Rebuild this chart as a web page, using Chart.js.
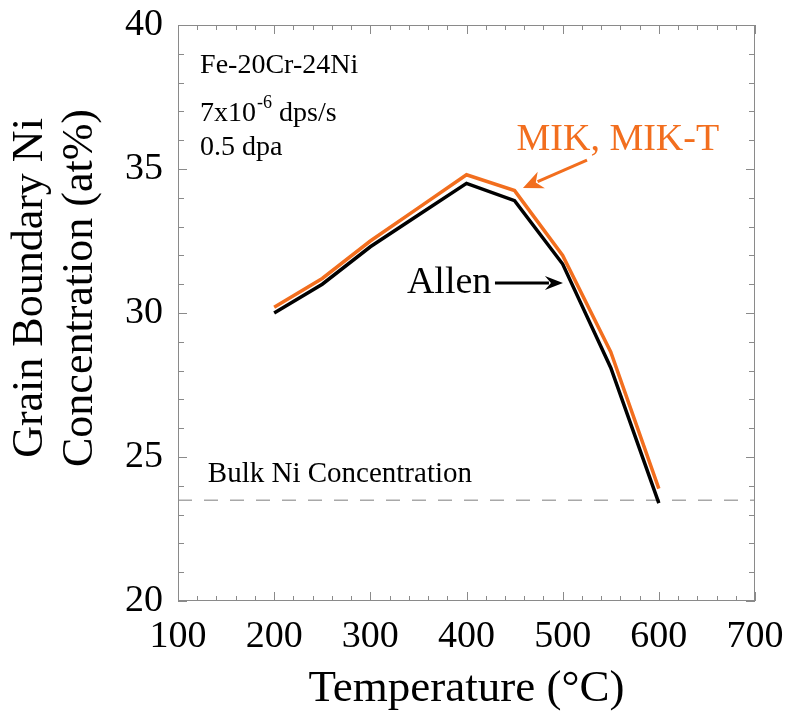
<!DOCTYPE html>
<html><head><meta charset="utf-8">
<script src="https://cdn.jsdelivr.net/npm/chart.js@4.4.1/dist/chart.umd.min.js"></script>
<style>html,body{margin:0;padding:0;background:#fff;}canvas{display:block;}</style>
</head><body>
<canvas id="c" width="788" height="723"></canvas>
<script>
// ---- data ----
const temperatures = [200, 250, 300, 350, 400, 450, 500, 550, 600];
const mikNi        = [30.2, 31.2, 32.5, 33.65, 34.8, 34.25, 32.0, 28.65, 23.9];
const allenNi      = [30.0, 31.0, 32.3, 33.4, 34.5, 33.9, 31.7, 28.1, 23.4];
const bulkNi = 23.5;
const bulkRange = [100, 700];
const xTickValues = [100, 200, 300, 400, 500, 600, 700];
const yTickValues = [20, 25, 30, 35, 40];
const yTitleLines = ['Grain Boundary Ni', 'Concentration (at%)'];
const xTitle = 'Temperature (°C)';

const FONT = '"Liberation Serif", "Times New Roman", serif';
const ORANGE = '#F26E1E';
const FRAME = '#8a8a8a';

const toXY = (xs, ys) => xs.map((x, i) => ({x, y: ys[i]}));

const decorPlugin = {
  id: 'decor',
  afterDatasetsDraw(chart) {
    const {ctx, chartArea: a, scales: {x, y}} = chart;
    ctx.save();
    // frame
    ctx.strokeStyle = FRAME; ctx.lineWidth = 1;
    ctx.strokeRect(a.left + 0.5, a.top + 0.5, a.right - a.left - 1, a.bottom - a.top - 1);
    // ticks (inward on all sides)
    ctx.beginPath();
    for (let v = 100; v <= 700; v += 20) {
      const p = Math.round(x.getPixelForValue(v)) + 0.5;
      const len = (v % 100 === 0) ? 9 : 5;
      ctx.moveTo(p, a.bottom); ctx.lineTo(p, a.bottom - len);
      ctx.moveTo(p, a.top); ctx.lineTo(p, a.top + len);
    }
    for (let v = 20; v <= 40; v += 1) {
      const p = Math.round(y.getPixelForValue(v)) + 0.5;
      const len = (v % 5 === 0) ? 9 : 6;
      ctx.moveTo(a.left, p); ctx.lineTo(a.left + len, p);
      ctx.moveTo(a.right, p); ctx.lineTo(a.right - len, p);
    }
    ctx.stroke();

    // y-axis title (two lines, rotated)
    ctx.save();
    ctx.fillStyle = '#000';
    ctx.font = '44px ' + FONT;
    ctx.textAlign = 'center';
    ctx.textBaseline = 'alphabetic';
    const midY = (a.top + a.bottom) / 2 - 25;
    [42, 92].forEach((bx, i) => {
      ctx.save();
      ctx.translate(bx, midY);
      ctx.rotate(-Math.PI / 2);
      ctx.fillText(yTitleLines[i], 0, 0);
      ctx.restore();
    });
    ctx.restore();

    // texts
    ctx.textBaseline = 'alphabetic';
    ctx.textAlign = 'left';
    ctx.fillStyle = '#000';
    ctx.font = '28px ' + FONT;
    ctx.fillText('Fe-20Cr-24Ni', x.getPixelForValue(123), y.getPixelForValue(38.33));
    // 7x10^-6 dps/s
    let tx = x.getPixelForValue(123), ty = y.getPixelForValue(36.67);
    ctx.fillText('7x10', tx, ty);
    tx += ctx.measureText('7x10').width;
    ctx.font = '18px ' + FONT;
    ctx.fillText('-6', tx + 1, ty - 13);
    tx += ctx.measureText('-6').width + 1;
    ctx.font = '28px ' + FONT;
    ctx.fillText(' dps/s', tx, ty);
    ctx.fillText('0.5 dpa', x.getPixelForValue(123), y.getPixelForValue(35.49));
    ctx.font = '29px ' + FONT;
    ctx.fillText('Bulk Ni Concentration', x.getPixelForValue(131), y.getPixelForValue(24.12));

    ctx.font = '38px ' + FONT;
    ctx.fillText('Allen', x.getPixelForValue(338), y.getPixelForValue(30.69));
    ctx.fillStyle = ORANGE;
    ctx.fillText('MIK, MIK-T', x.getPixelForValue(452), y.getPixelForValue(35.66));

    // arrows
    const arrow = (x0, y0, x1, y1, color, L, W) => {
      const X0 = x.getPixelForValue(x0), Y0 = y.getPixelForValue(y0);
      const X1 = x.getPixelForValue(x1), Y1 = y.getPixelForValue(y1);
      const ang = Math.atan2(Y1 - Y0, X1 - X0);
      ctx.strokeStyle = color; ctx.fillStyle = color; ctx.lineWidth = 3;
      ctx.beginPath();
      ctx.moveTo(X0, Y0);
      ctx.lineTo(X1 - Math.cos(ang) * (L - 4), Y1 - Math.sin(ang) * (L - 4));
      ctx.stroke();
      ctx.save();
      ctx.translate(X1, Y1); ctx.rotate(ang);
      ctx.beginPath();
      ctx.moveTo(0, 0);
      ctx.lineTo(-L, -W);
      ctx.lineTo(-L + 6, 0);
      ctx.lineTo(-L, W);
      ctx.closePath();
      ctx.fill();
      ctx.restore();
    };
    arrow(525.3, 35.31, 458.7, 34.34, ORANGE, 20, 9);
    arrow(429.6, 31.04, 500.3, 31.04, '#000', 18, 7);
    ctx.restore();
  }
};

const zeroPad = s => { s.paddingTop = 0; s.paddingBottom = 0; s.paddingLeft = 0; s.paddingRight = 0; };

new Chart(document.getElementById('c'), {
  type: 'line',
  data: {
    datasets: [
      {
        label: 'MIK, MIK-T',
        data: toXY(temperatures, mikNi),
        borderColor: ORANGE, borderWidth: 3.5, pointRadius: 0,
        borderJoinStyle: 'miter', tension: 0, fill: false
      },
      {
        label: 'Allen',
        data: toXY(temperatures, allenNi),
        borderColor: '#000', borderWidth: 3.5, pointRadius: 0,
        borderJoinStyle: 'miter', tension: 0, fill: false
      },
      {
        label: 'Bulk Ni Concentration',
        data: toXY(bulkRange, [bulkNi, bulkNi]),
        borderColor: '#a8a8a8', borderWidth: 1.5, borderDash: [14, 12],
        pointRadius: 0, tension: 0, fill: false
      }
    ]
  },
  options: {
    responsive: false,
    devicePixelRatio: 1,
    animation: false,
    layout: {padding: {left: 0, right: 33, top: 25, bottom: 0}},
    plugins: {legend: {display: false}, tooltip: {enabled: false}},
    scales: {
      x: {
        type: 'linear', min: 100, max: 700,
        afterBuildTicks: s => { s.ticks = xTickValues.map(v => ({value: v})); },
        afterFit: s => { s.height = 122; zeroPad(s); },
        grid: {display: false, drawTicks: false},
        border: {display: false},
        ticks: {font: {family: FONT, size: 38, lineHeight: 1.2}, color: '#000', padding: 13, maxRotation: 0, autoSkip: false},
        title: {display: true, text: xTitle, color: '#000',
                font: {family: FONT, size: 45, lineHeight: 1.14}, padding: {top: 0, bottom: 8}}
      },
      y: {
        type: 'linear', min: 20, max: 40,
        afterBuildTicks: s => { s.ticks = yTickValues.map(v => ({value: v})); },
        afterFit: s => { s.width = 178; zeroPad(s); },
        grid: {display: false, drawTicks: false},
        border: {display: false},
        ticks: {font: {family: FONT, size: 38, lineHeight: 1.2}, color: '#000', padding: 15},
        title: {display: false}
      }
    }
  },
  plugins: [decorPlugin]
});
</script>
</body></html>
